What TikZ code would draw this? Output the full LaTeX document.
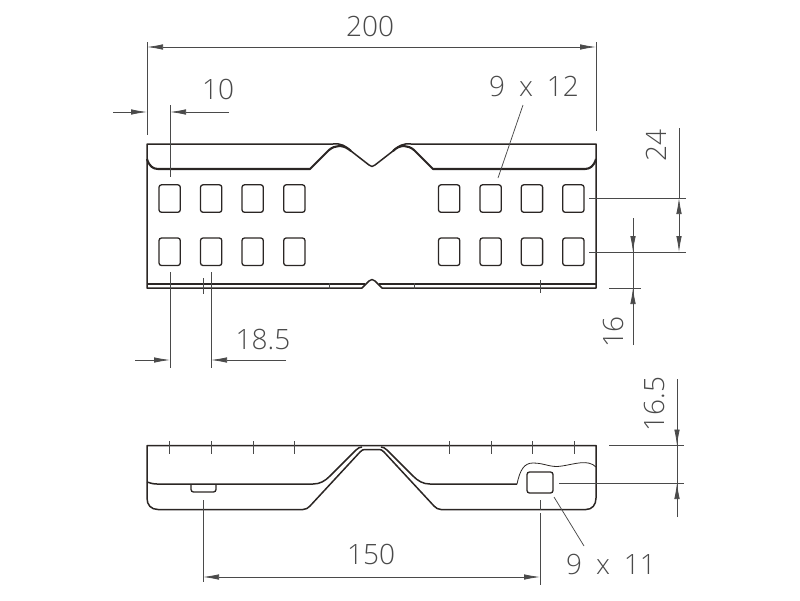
\documentclass[tikz,border=0pt]{standalone}
\usepackage{fontspec}
\setmainfont{Open Sans Light}
\usetikzlibrary{arrows.meta}
\definecolor{inkline}{HTML}{2B2624}
\definecolor{dimline}{HTML}{4A4A4A}
\newcommand{\wgap}{\hspace*{14pt}}
\tikzset{x=1pt,y=-1pt,
outline/.style={line width=1.5pt,draw=inkline,line join=round},
heavyline/.style={line width=2.1pt,draw=inkline,line join=round},
thinline/.style={line width=0.8pt,draw=inkline},
hole/.style={line width=1.3pt,draw=inkline,rounded corners=2.5pt},
dim/.style={line width=0.75pt,draw=dimline},
dimhead/.style={dim,-{Latex[length=16pt,width=5.5pt]}},
dimarrow/.style={dim,{Latex[length=16pt,width=5.5pt]}-{Latex[length=16pt,width=5.5pt]}},
dimtext/.style={inner sep=0pt,text=dimline,font=\fontsize{28}{28}\selectfont}}
\begin{document}
\begin{tikzpicture}
\useasboundingbox (0,0) rectangle (800,600);
% top view
\draw[outline] (147,144) -- (333,144) .. controls (341,143) and (346,146) .. (351,151) -- (369,165) .. controls (371,167) and (373,167) .. (375,165) -- (393,151) .. controls (398,146) and (403,143) .. (411,144) -- (596,144) -- (596,288) -- (382,288) -- (375,281) .. controls (373,279) and (371,279) .. (369,281) -- (362,288) -- (147,288) -- cycle;
\draw[heavyline] (147,159) .. controls (149,166) and (153,169) .. (158,169) -- (310,169) -- (329,150) .. controls (335,145) and (343,144) .. (351,151);
\draw[heavyline] (596,159) .. controls (594,166) and (590,169) .. (585,169) -- (433,169) -- (414,150) .. controls (408,145) and (400,144) .. (393,151);
\draw[outline] (147,284) -- (365,284);
\draw[outline] (379,284) -- (596,284);
\foreach \hx in {159,200.5,242,283.7,438.5,480,521.3,562.7}
  \foreach \hy in {184.8,238}
    \draw[hole] (\hx,\hy) rectangle ++(21.3,27.5);
\draw[dim] (329,283) -- (329,289);
\draw[dim] (414,283) -- (414,289);
\draw[dim] (540,280) -- (540,293);
% side view
\draw[outline] (147,445.5) -- (596,445.5) -- (596,498) .. controls (596,505) and (592,509.5) .. (586,509.5) -- (441,509.5) .. controls (438,509.5) and (436,508) .. (434,506) -- (384,452) .. controls (382,450) and (381,449.5) .. (379,449.5) -- (365,449.5) .. controls (363,449.5) and (362,450) .. (360,452) -- (310,506) .. controls (308,508) and (306,509.5) .. (303,509.5) -- (158,509.5) .. controls (151,509.5) and (147,505) .. (147,498) -- cycle;
\draw[outline] (147,482) .. controls (150,483) and (153,484) .. (157,484) -- (313,484) .. controls (320,484) and (325,481) .. (330,476) -- (356,450) .. controls (358,448) and (360,447) .. (362,447);
\draw[outline] (517,484) -- (430,484) .. controls (423,484) and (418,481) .. (413,476) -- (387,450) .. controls (385,448) and (383,447) .. (381,447);
\draw[thinline] (517,484) .. controls (520,470) and (524,463) .. (533,463) .. controls (545,463) and (550,468) .. (562,466) .. controls (575,464) and (588,459) .. (596,467);
\draw[hole] (191,484) -- (191,492) -- (216,492) -- (216,484);
\draw[hole] (527,472) rectangle (553,493);
\foreach \tx in {169,211,253,294,449,491,532,574}
  \draw[dim] (\tx,441) -- (\tx,454);
% extension lines
\coordinate (w1) at (147,42);
\coordinate (w2) at (147,135);
\coordinate (w3) at (596,42);
\coordinate (w4) at (596,131);
\draw[dim] (w1) -- (w2);
\draw[dim] (w3) -- (w4);
\draw[dim] (170,105) -- (170,177);
\draw[dim] (170,272) -- (170,368);
\draw[dim] (211,272) -- (211,368);
\draw[dim] (203,278) -- (203,294);
\draw[dim] (589,198) -- (686,198);
\draw[dim] (589,252) -- (686,252);
\draw[dim] (609,288) -- (641,288);
\draw[dim] (679,128) -- (679,198);
\draw[dim] (633,218) -- (633,345);
\draw[dim] (609,445.5) -- (684,445.5);
\draw[dim] (559,483) -- (684,483);
\draw[dim] (677,379) -- (677,517);
\draw[dim] (203,500) -- (203,582);
\draw[dim] (540,500) -- (540,510);
\draw[dim] (540,513) -- (540,585);
% dimension arrows
\coordinate (a1) at (147,47);
\coordinate (a2) at (596,47);
\draw[dimarrow] (a1) -- (a2);
\draw[dimhead] (113,112) -- (147,112);
\draw[dimhead] (229,112) -- (170,112);
\draw[dimhead] (135,360) -- (170,360);
\draw[dimhead] (286,360) -- (211,360);
\draw[dimarrow] (679,198) -- (679,252);
\draw[dimhead] (633,218) -- (633,252);
\draw[dimhead] (633,345) -- (633,288);
\draw[dimhead] (677,379) -- (677,445.5);
\draw[dimhead] (677,517) -- (677,483);
\draw[dimarrow] (203,577) -- (540,577);
% leaders
\draw[dim] (523,105) -- (498,178);
\draw[dim] (554,497) -- (584,546);
% labels
\node[dimtext] (l200) at (370,26) {200};
\node[dimtext] (l10) at (218,89) {10};
\node[dimtext] (l912) at (534,86) {9\wgap x\wgap 12};
\node[dimtext,rotate=90] (l24) at (656,146) {24};
\node[dimtext,rotate=90] (l16) at (613,332) {16};
\node[dimtext] (l185) at (263,339) {18.5};
\node[dimtext,rotate=90] (l165) at (654,404) {16.5};
\node[dimtext] (l150) at (371,554) {150};
\node[dimtext] (l911) at (611,564) {9\wgap x\wgap 11};
\end{tikzpicture}
\end{document}
